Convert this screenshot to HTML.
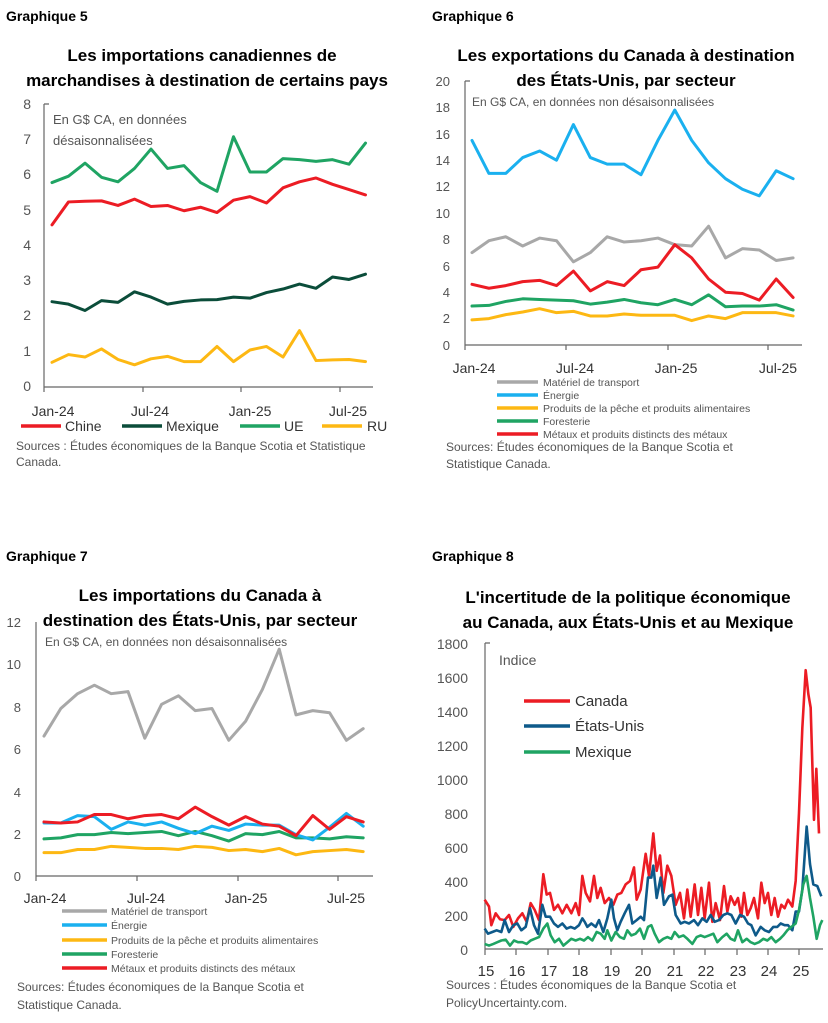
<!DOCTYPE html>
<html><head><meta charset="utf-8"><style>
body{margin:0;background:#fff;width:828px;height:1023px;overflow:hidden}
svg{display:block}
text{font-family:"Liberation Sans",sans-serif}
.t{font-weight:bold;font-size:17px;fill:#000;text-anchor:middle}
.g{font-weight:bold;font-size:14px;fill:#000}
.yl{font-size:14px;fill:#555;text-anchor:end}
.xl{font-size:14px;fill:#333;text-anchor:middle}
.n{font-size:13px;fill:#555}
.s{font-size:12px;fill:#555}
.lg{font-size:10.5px;fill:#555}
.ax{stroke:#666;stroke-width:1.2;fill:none}
.l{fill:none;stroke-width:3;stroke-linejoin:round;stroke-linecap:round;vector-effect:non-scaling-stroke}
.l8{fill:none;stroke-width:2.6;stroke-linejoin:round;vector-effect:non-scaling-stroke}
</style></head><body>
<svg width="828" height="1023" viewBox="0 0 828 1023">
<!-- Chart 5 -->
<text class="g" x="6" y="21">Graphique 5</text>
<text class="t" x="202" y="61">Les importations canadiennes de</text>
<text class="t" x="207" y="86">marchandises à destination de certains pays</text>
<g class="yl"><text x="31" y="109">8</text><text x="31" y="144">7</text><text x="31" y="179">6</text><text x="31" y="215">5</text><text x="31" y="250">4</text><text x="31" y="285">3</text><text x="31" y="320">2</text><text x="31" y="356">1</text><text x="31" y="391">0</text></g>
<path class="ax" d="M44 104V392M44 387H373M44 387v5M143 387v5M241 387v5M340 387v5M44 104h5"/>
<text class="n" x="53" y="124">En G$ CA, en données</text>
<text class="n" x="53" y="145">désaisonnalisées</text>
<g transform="translate(52 387) scale(16.5 -35.25)">
<polyline class="l" stroke="#1fa463" points="0,5.8 1,5.98 2,6.35 3,5.95 4,5.82 5,6.2 6,6.75 7,6.2 8,6.28 9,5.8 10,5.55 11,7.1 12,6.1 13,6.1 14,6.48 15,6.45 16,6.4 17,6.45 18,6.32 19,6.92"/>
<polyline class="l" stroke="#ec1c24" points="0,4.6 1,5.25 2,5.27 3,5.28 4,5.15 5,5.33 6,5.12 7,5.15 8,5 9,5.1 10,4.95 11,5.3 12,5.4 13,5.22 14,5.65 15,5.82 16,5.93 17,5.75 18,5.6 19,5.45"/>
<polyline class="l" stroke="#0b4d3a" points="0,2.42 1,2.35 2,2.17 3,2.45 4,2.4 5,2.7 6,2.55 7,2.35 8,2.43 9,2.47 10,2.48 11,2.55 12,2.52 13,2.68 14,2.78 15,2.92 16,2.8 17,3.12 18,3.05 19,3.2"/>
<polyline class="l" stroke="#fdb813" points="0,0.7 1,0.92 2,0.85 3,1.08 4,0.78 5,0.63 6,0.8 7,0.87 8,0.72 9,0.72 10,1.15 11,0.72 12,1.05 13,1.15 14,0.85 15,1.6 16,0.75 17,0.77 18,0.78 19,0.72"/>
</g>
<g class="xl"><text x="53" y="416">Jan-24</text><text x="150" y="416">Jul-24</text><text x="250" y="416">Jan-25</text><text x="348" y="416">Jul-25</text></g>
<g stroke-width="3.5"><line x1="21" y1="426" x2="61" y2="426" stroke="#ec1c24"/><line x1="122" y1="426" x2="162" y2="426" stroke="#0b4d3a"/><line x1="240" y1="426" x2="280" y2="426" stroke="#1fa463"/><line x1="322" y1="426" x2="362" y2="426" stroke="#fdb813"/></g>
<g class="xl" style="text-anchor:start"><text x="65" y="431">Chine</text><text x="166" y="431">Mexique</text><text x="284" y="431">UE</text><text x="367" y="431">RU</text></g>
<text class="s" x="16" y="450">Sources : Études économiques de la Banque Scotia et Statistique</text>
<text class="s" x="16" y="466">Canada.</text>

<!-- Chart 6 -->
<text class="g" x="432" y="21">Graphique 6</text>
<text class="t" x="626" y="61">Les exportations du Canada à destination</text>
<text class="t" x="626" y="86">des États-Unis, par secteur</text>
<g class="yl" style="font-size:13px"><text x="450" y="86">20</text><text x="450" y="112">18</text><text x="450" y="139">16</text><text x="450" y="165">14</text><text x="450" y="191">12</text><text x="450" y="218">10</text><text x="450" y="244">8</text><text x="450" y="271">6</text><text x="450" y="297">4</text><text x="450" y="323">2</text><text x="450" y="350">0</text></g>
<path class="ax" d="M465 81V350M465 345H802M566 345v5M668 345v5M768 345v5M465 81h5"/>
<text class="s" x="472" y="106">En G$ CA, en données non désaisonnalisées</text>
<g transform="translate(472 345) scale(16.9 -13.2)">
<polyline class="l" stroke="#1ab0ef" points="0,15.5 1,13 2,13 3,14.2 4,14.7 5,14 6,16.7 7,14.2 8,13.7 9,13.7 10,12.9 11,15.5 12,17.8 13,15.5 14,13.8 15,12.6 16,11.8 17,11.3 18,13.2 19,12.6"/>
<polyline class="l" stroke="#a8a8a8" points="0,7 1,7.9 2,8.2 3,7.5 4,8.1 5,7.9 6,6.3 7,7 8,8.2 9,7.8 10,7.9 11,8.1 12,7.6 13,7.5 14,9 15,6.6 16,7.3 17,7.2 18,6.4 19,6.6"/>
<polyline class="l" stroke="#ec1c24" points="0,4.6 1,4.3 2,4.5 3,4.8 4,4.9 5,4.5 6,5.6 7,4.1 8,4.8 9,4.5 10,5.7 11,5.9 12,7.6 13,6.6 14,5 15,4 16,3.9 17,3.4 18,5 19,3.6"/>
<polyline class="l" stroke="#1fa463" points="0,2.95 1,3 2,3.3 3,3.5 4,3.45 5,3.4 6,3.35 7,3.1 8,3.25 9,3.45 10,3.2 11,3.05 12,3.45 13,3.05 14,3.8 15,2.9 16,2.95 17,2.95 18,3.05 19,2.65"/>
<polyline class="l" stroke="#fdb813" points="0,1.9 1,2 2,2.3 3,2.5 4,2.75 5,2.45 6,2.55 7,2.2 8,2.2 9,2.35 10,2.25 11,2.25 12,2.25 13,1.85 14,2.2 15,2 16,2.45 17,2.45 18,2.45 19,2.2"/>
</g>
<g class="xl"><text x="474" y="373">Jan-24</text><text x="575" y="373">Jul-24</text><text x="676" y="373">Jan-25</text><text x="778" y="373">Jul-25</text></g>
<g stroke-width="3.5"><line x1="497" y1="382" x2="538" y2="382" stroke="#a8a8a8"/><line x1="497" y1="395" x2="538" y2="395" stroke="#1ab0ef"/><line x1="497" y1="408" x2="538" y2="408" stroke="#fdb813"/><line x1="497" y1="421" x2="538" y2="421" stroke="#1fa463"/><line x1="497" y1="434" x2="538" y2="434" stroke="#ec1c24"/></g>
<g class="lg"><text x="543" y="386">Matériel de transport</text><text x="543" y="399">Énergie</text><text x="543" y="412">Produits de la pêche et produits alimentaires</text><text x="543" y="425">Foresterie</text><text x="543" y="438">Métaux et produits distincts des métaux</text></g>
<text class="s" x="446" y="451">Sources: Études économiques de la Banque Scotia et</text>
<text class="s" x="446" y="468">Statistique Canada.</text>

<!-- Chart 7 -->
<text class="g" x="6" y="561">Graphique 7</text>
<text class="t" x="200" y="601">Les importations du Canada à</text>
<text class="t" x="200" y="626">destination des États-Unis, par secteur</text>
<g class="yl" style="font-size:13px"><text x="21" y="627">12</text><text x="21" y="669">10</text><text x="21" y="712">8</text><text x="21" y="754">6</text><text x="21" y="797">4</text><text x="21" y="839">2</text><text x="21" y="881">0</text></g>
<path class="ax" d="M36 622V881M36 876H373M137 876v5M238 876v5M338 876v5"/>
<text class="s" x="45" y="646">En G$ CA, en données non désaisonnalisées</text>
<g transform="translate(44 876) scale(16.8 -21.2)">
<polyline class="l" stroke="#a8a8a8" points="0,6.6 1,7.9 2,8.6 3,9 4,8.6 5,8.7 6,6.5 7,8.1 8,8.5 9,7.8 10,7.9 11,6.4 12,7.3 13,8.8 14,10.7 15,7.6 16,7.8 17,7.7 18,6.4 19,6.95"/>
<polyline class="l" stroke="#1fa463" points="0,1.75 1,1.8 2,1.95 3,1.95 4,2.05 5,2 6,2.05 7,2.1 8,1.9 9,2.1 10,1.9 11,1.65 12,2 13,1.95 14,2.1 15,1.8 16,1.8 17,1.75 18,1.85 19,1.8"/>
<polyline class="l" stroke="#fdb813" points="0,1.1 1,1.1 2,1.25 3,1.25 4,1.4 5,1.35 6,1.3 7,1.3 8,1.25 9,1.4 10,1.35 11,1.2 12,1.25 13,1.15 14,1.3 15,1 16,1.15 17,1.2 18,1.25 19,1.15"/>
<polyline class="l" stroke="#1ab0ef" points="0,2.5 1,2.5 2,2.85 3,2.8 4,2.2 5,2.55 6,2.4 7,2.55 8,2.25 9,2 10,2.35 11,2.15 12,2.45 13,2.4 14,2.4 15,1.95 16,1.7 17,2.3 18,2.95 19,2.35"/>
<polyline class="l" stroke="#ec1c24" points="0,2.55 1,2.5 2,2.55 3,2.9 4,2.9 5,2.7 6,2.85 7,2.9 8,2.7 9,3.25 10,2.8 11,2.4 12,2.8 13,2.45 14,2.35 15,1.9 16,2.85 17,2.2 18,2.8 19,2.55"/>
</g>
<g class="xl"><text x="45" y="903">Jan-24</text><text x="146" y="903">Jul-24</text><text x="246" y="903">Jan-25</text><text x="346" y="903">Jul-25</text></g>
<g stroke-width="3.5"><line x1="62" y1="911" x2="107" y2="911" stroke="#a8a8a8"/><line x1="62" y1="925" x2="107" y2="925" stroke="#1ab0ef"/><line x1="62" y1="940" x2="107" y2="940" stroke="#fdb813"/><line x1="62" y1="954" x2="107" y2="954" stroke="#1fa463"/><line x1="62" y1="968" x2="107" y2="968" stroke="#ec1c24"/></g>
<g class="lg"><text x="111" y="915">Matériel de transport</text><text x="111" y="929">Énergie</text><text x="111" y="944">Produits de la pêche et produits alimentaires</text><text x="111" y="958">Foresterie</text><text x="111" y="972">Métaux et produits distincts des métaux</text></g>
<text class="s" x="17" y="991">Sources: Études économiques de la Banque Scotia et</text>
<text class="s" x="17" y="1009">Statistique Canada.</text>

<!-- Chart 8 -->
<text class="g" x="432" y="561">Graphique 8</text>
<text class="t" x="628" y="603">L'incertitude de la politique économique</text>
<text class="t" x="628" y="628">au Canada, aux États-Unis et au Mexique</text>
<g class="yl"><text x="468" y="649">1800</text><text x="468" y="683">1600</text><text x="468" y="717">1400</text><text x="468" y="751">1200</text><text x="468" y="785">1000</text><text x="468" y="819">800</text><text x="468" y="853">600</text><text x="468" y="887">400</text><text x="468" y="921">200</text><text x="468" y="955">0</text></g>
<path class="ax" d="M485 643V955M485 949H823M485 643h5M516 949v6M548 949v6M579 949v6M611 949v6M642 949v6M674 949v6M705 949v6M737 949v6M768 949v6M799 949v6"/>
<text class="n" x="499" y="665" style="font-size:14px">Indice</text>
<g transform="translate(414 949) scale(0.33333 -0.17)">
<polyline class="l8" stroke="#ec1c24" points="212,290 225,250 232,140 245,210 258,175 272,170 285,200 298,130 312,180 325,210 338,160 350,270 362,230 375,170 388,440 398,320 408,330 420,230 432,260 445,210 458,260 472,210 485,270 495,200 505,430 515,330 528,280 540,430 550,300 560,360 572,270 585,300 598,260 610,320 622,330 635,380 648,400 660,480 668,290 680,350 695,560 705,430 718,680 728,460 738,550 748,330 760,490 772,430 785,260 798,330 810,180 820,350 830,190 842,380 852,200 862,360 872,180 885,390 895,160 905,270 918,170 930,370 940,220 950,310 962,260 972,300 982,190 990,330 1000,200 1010,240 1020,300 1032,180 1042,390 1052,270 1062,330 1072,200 1082,300 1092,190 1102,260 1112,240 1122,290 1135,250 1145,400 1155,800 1165,1300 1175,1640 1183,1500 1190,1420 1200,760 1207,1060 1215,680"/>
<polyline class="l8" stroke="#0e5a8a" points="212,120 222,90 235,100 248,110 262,100 272,170 285,100 298,140 310,150 322,110 335,130 348,240 360,140 372,90 385,260 395,190 408,190 420,150 432,130 445,150 458,120 470,130 482,120 495,140 505,180 512,160 520,130 532,150 545,130 555,170 568,100 580,180 592,290 600,180 610,110 620,160 632,210 645,260 655,150 668,170 680,190 690,170 702,420 712,420 718,490 728,300 740,420 750,260 765,310 775,320 785,200 800,150 812,160 825,150 840,170 852,140 865,180 878,160 890,200 902,160 915,170 928,200 940,210 952,200 965,150 978,200 990,190 1002,150 1012,140 1025,80 1040,130 1052,110 1065,100 1078,130 1090,130 1100,150 1112,140 1122,140 1135,110 1145,220 1155,220 1165,350 1178,720 1188,500 1198,380 1210,370 1222,310"/>
<polyline class="l8" stroke="#1fa463" points="212,30 225,20 238,30 250,40 262,50 275,55 288,20 300,50 312,40 325,40 338,30 350,50 362,60 375,70 388,120 400,150 410,80 422,40 435,60 448,20 460,40 472,60 485,50 498,60 510,50 522,70 535,50 548,100 560,90 572,60 580,110 592,50 605,100 618,70 630,60 640,110 652,80 665,90 678,120 690,60 702,130 712,140 722,90 735,40 748,60 760,70 772,60 782,100 795,70 808,80 820,60 835,30 848,70 860,80 872,70 885,80 898,90 910,40 925,70 938,90 950,60 962,50 972,110 985,40 998,60 1010,40 1022,30 1035,40 1048,60 1060,50 1072,70 1085,40 1098,60 1108,80 1120,110 1132,130 1145,150 1155,230 1168,380 1178,430 1188,300 1198,190 1208,60 1218,140 1225,170"/>
</g>
<g class="xl" style="font-size:15px"><text x="486" y="976">15</text><text x="517" y="976">16</text><text x="549" y="976">17</text><text x="580" y="976">18</text><text x="612" y="976">19</text><text x="643" y="976">20</text><text x="675" y="976">21</text><text x="706" y="976">22</text><text x="738" y="976">23</text><text x="769" y="976">24</text><text x="801" y="976">25</text></g>
<g stroke-width="3.5"><line x1="524" y1="701" x2="570" y2="701" stroke="#ec1c24"/><line x1="524" y1="726" x2="570" y2="726" stroke="#0e5a8a"/><line x1="524" y1="752" x2="570" y2="752" stroke="#1fa463"/></g>
<g class="xl" style="text-anchor:start;font-size:15px"><text x="575" y="706">Canada</text><text x="575" y="731">États-Unis</text><text x="575" y="757">Mexique</text></g>
<text class="s" x="446" y="989">Sources : Études économiques de la Banque Scotia et</text>
<text class="s" x="446" y="1007">PolicyUncertainty.com.</text>
</svg>
</body></html>
